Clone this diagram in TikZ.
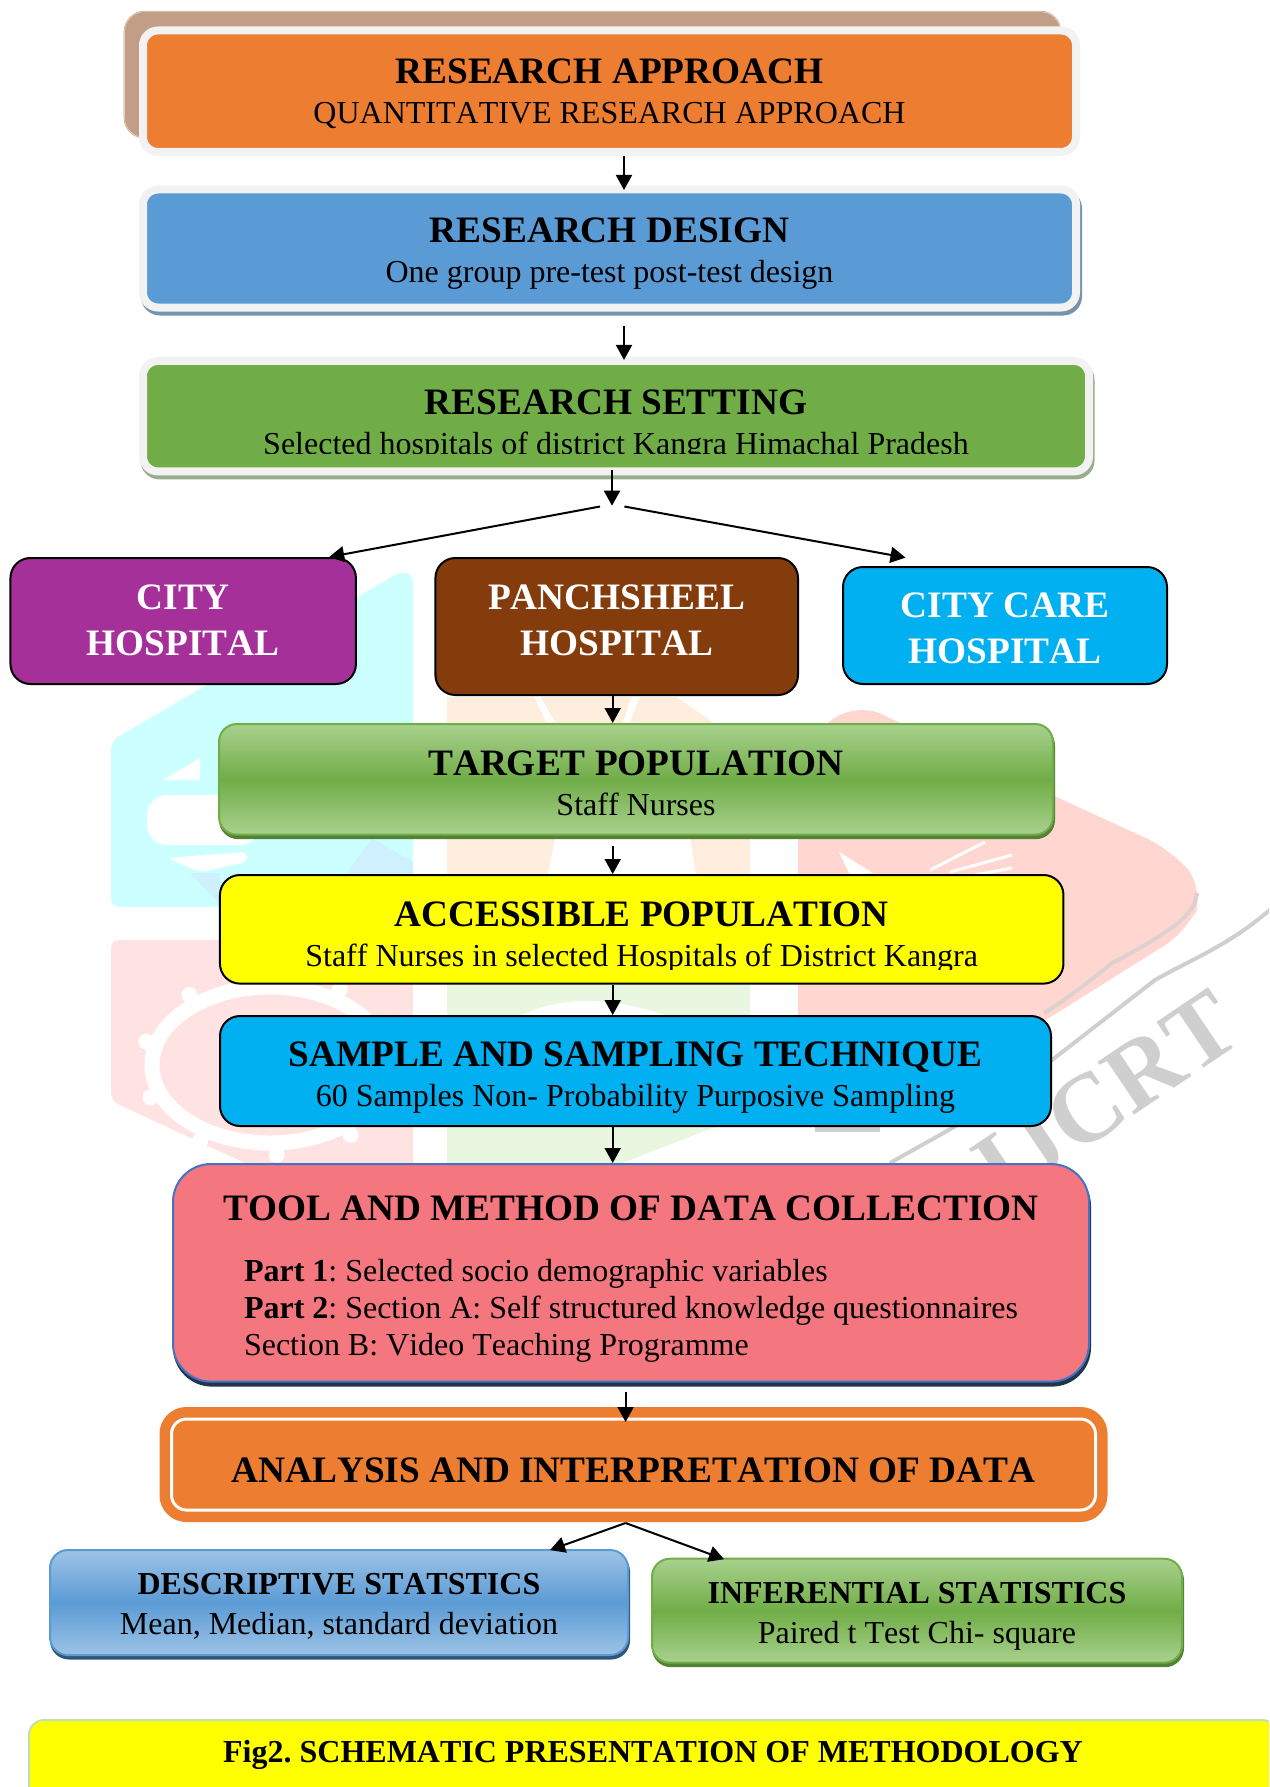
\documentclass[tikz,border=0pt]{standalone}
\usepackage{fontspec}
\setmainfont[Kerning=Off,Ligatures=NoCommon]{Liberation Serif}
\usetikzlibrary{arrows.meta,shadows}
\definecolor{fillorange}{HTML}{ED7D31}
\definecolor{fillblue}{HTML}{5B9BD5}
\definecolor{lightblue}{HTML}{9DC3E6}
\definecolor{fillgreen}{HTML}{70AD47}
\definecolor{lightgreen}{HTML}{A9D18E}
\definecolor{fillpurple}{HTML}{A6309A}
\definecolor{fillbrown}{HTML}{843C0C}
\definecolor{fillcyan}{HTML}{00B0F0}
\definecolor{fillyellow}{HTML}{FFFF00}
\definecolor{fillpink}{HTML}{F4777F}
\definecolor{edgegrey}{HTML}{F2F2F2}
\definecolor{edgeblue}{HTML}{4472C4}
\definecolor{backtan}{HTML}{C19E85}
\definecolor{markcyan}{HTML}{CCFFFF}
\definecolor{markblue}{HTML}{CFF1FF}
\definecolor{markpink}{HTML}{FFE3E3}
\definecolor{markpeach}{HTML}{FFEEDD}
\definecolor{markgreen}{HTML}{EAF7E0}
\definecolor{markred}{HTML}{FFD6D0}
\definecolor{markgrey}{HTML}{CFCFCF}
\newcommand{\headfont}{\fontsize{37.3}{40}\selectfont\bfseries}
\newcommand{\headtext}[2][50]{\rule{0pt}{#1pt}{\headfont #2}}
\newcommand{\subtext}[2]{\rule[-#1pt]{0pt}{#1pt}#2}
\frenchspacing
\tikzset{
  flowbox/.style={rounded corners=20pt, align=center, inner sep=0pt, font=\frenchspacing\fontsize{32}{40}\selectfont},
  paleedge/.style={flowbox, draw=edgegrey, line width=8pt, rounded corners=15pt},
  blackedge/.style={flowbox, draw=black, line width=2pt},
  hospital/.style={blackedge, text=white, font=\fontsize{32}{46}\selectfont},
  flow/.style={-{Triangle[length=15pt,width=16pt]}, line width=2pt},
  glossgreen/.style={flowbox, draw=fillgreen, line width=2pt, rounded corners=18pt, top color=lightgreen, bottom color=lightgreen, middle color=fillgreen,
    general shadow={shadow xshift=1pt, shadow yshift=-3.5pt, fill=fillgreen!75!black, draw=fillgreen!75!black, line width=2pt}},
  glossblue/.style={flowbox, draw=fillblue, line width=2pt, rounded corners=18pt, top color=lightblue, bottom color=lightblue, middle color=fillblue,
    general shadow={shadow xshift=1pt, shadow yshift=-3.5pt, fill=fillblue!55!black, draw=fillblue!55!black, line width=2pt}}
}
\begin{document}
\begin{tikzpicture}[x=1pt,y=-1pt]
  \clip (0,0) rectangle (1269,1787);

  % faint logo behind the boxes
  \fill[markcyan, rounded corners=8pt] (111,741) -- (402,571) -- (413,575) -- (413,885) -- (220,907) -- (111,907) -- cycle;
  \fill[markblue] (372,838) -- (413,862) -- (413,876) -- (345,876) -- cycle;
  \fill[markblue] (190,873) -- (220,873) -- (220,904) -- cycle;
  \fill[white, rounded corners=20pt] (147,795) rectangle (260,845);
  \fill[white] (163,780) -- (200,758) -- (200,780) -- cycle;
  \fill[white, rounded corners=5pt] (167,858) -- (247,852) -- (247,862) -- (200,872) -- cycle;

  \fill[markpink, rounded corners=8pt] (111,940) -- (413,940) -- (413,1170) -- (260,1170) -- (111,1101) -- cycle;
  \draw[white, line width=15pt] (270,1065) ellipse (118 and 78);
  \foreach \t in {0,36,...,324} {
    \fill[white] ({270+128*cos(\t+15)},{1065+90*sin(\t+15)}) circle (8);
  }

  \fill[markpeach] (447,697) -- (677,697) -- (750,748) -- (750,875) -- (447,875) -- cycle;
  \fill[white] (555,838) -- (690,838) -- (696,875) -- (548,875) -- cycle;
  \fill[white] (534,696) -- (540,696) -- (555,722) -- (546,722) -- cycle;
  \fill[white] (632,696) -- (640,696) -- (630,722) -- (623,722) -- cycle;

  \fill[markgreen] (447,983) -- (750,983) -- (750,1016) -- (715,1127) -- (620,1164) -- (447,1164) -- cycle;
  \fill[white] (520,1016) .. controls (560,996) and (610,996) .. (667,1016) -- cycle;

  \fill[markred, rounded corners=28pt] (798,1040) -- (798,745) -- (856,702) -- (1052,795) -- (1172,850) -- (1205,890) -- (1189,930) -- (1030,1030) -- cycle;
  \fill[white] (839,852) -- (873,873) -- (850,875) -- cycle;
  \draw[white, line width=3pt] (930,870) -- (985,842) (950,872) -- (1012,855) (975,875) -- (1012,868);

  % grey band and letters of the logo
  \draw[markgrey!70!markred, line width=4pt] (1197,893) .. controls (1195,910) and (1185,925) .. (1112,963) .. controls (1085,985) and (1065,1000) .. (1044,1013);
  \draw[markgrey, line width=5pt] (815,1129) -- (880,1129);
  \draw[markgrey, line width=4pt] (1272,908) .. controls (1230,945) and (1190,960) .. (1155,980) -- (1052,1060) -- (954,1127) -- (890,1163);
  \node[text=markgrey, font=\fontsize{98}{98}\selectfont\bfseries, rotate=34] (logotext) at (1106,1096) {IJCRT};

  % top three boxes
  \node[flowbox, fill=backtan, draw=backtan, double=backtan!50!white, double distance=0.8pt, minimum width=936pt, minimum height=126pt] (approachback) at (592.5,74.7) {};
  \node[paleedge, fill=fillorange, minimum width=933pt, minimum height=121.5pt] (approach) at (609.5,91.2)
    {\headtext{RESEARCH APPROACH}\\ \subtext{24.4}{QUANTITATIVE RESEARCH APPROACH}};
  \node[paleedge, fill=fillblue, minimum width=933pt, minimum height=118pt,
    general shadow={shadow xshift=2pt, shadow yshift=-4pt, fill=black!25!lightblue, draw=black!25!lightblue, line width=8pt}] (design) at (609.5,248.5)
    {\headtext{RESEARCH DESIGN}\\ \subtext{21}{One group pre-test post-test design}};
  \node[paleedge, fill=fillgreen, minimum width=946pt, minimum height=110.5pt,
    general shadow={shadow xshift=1.5pt, shadow yshift=-4pt, fill=black!35!lightgreen!70!white, draw=black!35!lightgreen!70!white, line width=8pt}] (setting) at (616,416.2)
    {\headtext{RESEARCH SETTING}\\ \subtext{13.5}{Selected hospitals of district Kangra Himachal Pradesh}};
  \fill[fillgreen] (250,453.5) rectangle (985,461);

  % hospitals
  \node[hospital, fill=fillpurple, minimum width=345.5pt, minimum height=126pt] (city) at (183.2,621)
    {\headtext{CITY}\\ \subtext{26.3}{\headfont HOSPITAL}};
  \node[hospital, fill=fillbrown, minimum width=362.6pt, minimum height=137pt] (panch) at (616.7,626.5)
    {\headtext{PANCHSHEEL}\\ \subtext{37.3}{\headfont HOSPITAL}};
  \node[hospital, fill=fillcyan, minimum width=324pt, minimum height=117pt] (care) at (1005,625.5)
    {\headtext[40]{CITY CARE}\\ \subtext{9.7}{\headfont HOSPITAL}};

  % population and sample
  \node[glossgreen, minimum width=834pt, minimum height=110.6pt] (target) at (636,779.3)
    {\headtext{TARGET POPULATION}\\ \subtext{18.6}{Staff Nurses}};
  \node[blackedge, fill=fillyellow, minimum width=843.5pt, minimum height=108.6pt] (accessible) at (641.7,929.3)
    {\headtext{ACCESSIBLE POPULATION}\\ \subtext{16.1}{Staff Nurses in selected Hospitals of District Kangra}};
  \fill[fillyellow] (300,969.5) rectangle (990,976);
  \node[blackedge, fill=fillcyan, minimum width=831pt, minimum height=110pt] (sample) at (635.5,1071)
    {\headtext{SAMPLE AND SAMPLING TECHNIQUE}\\ \subtext{20}{60 Samples Non- Probability Purposive Sampling}};

  % data collection
  \node[flowbox, rounded corners=38pt, fill=fillpink, draw=edgeblue, line width=2pt, font=\frenchspacing\fontsize{32}{37}\selectfont,
    general shadow={shadow xshift=1pt, shadow yshift=-4pt, fill=fillblue!35!black, draw=fillblue!35!black, line width=2pt},
    minimum width=916pt, minimum height=217.6pt] (tool) at (631,1272.8)
    {\headtext{TOOL AND METHOD OF DATA COLLECTION}\\[24pt]
     \makebox[774pt][l]{\textbf{Part 1}: Selected socio demographic variables}\\
     \makebox[774pt][l]{\textbf{Part 2}: Section A: Self structured knowledge questionnaires}\\
     \subtext{20.6}{\makebox[774pt][l]{Section B: Video Teaching Programme}}};

  \node[flowbox, rounded corners=15pt, fill=fillorange, draw=white, line width=3pt,
    preaction={draw=fillorange, line width=24pt},
    minimum width=924pt, minimum height=91pt] (analysis) at (633.5,1464.5)
    {\rule[-10pt]{0pt}{55pt}{\headfont ANALYSIS AND INTERPRETATION OF DATA}};

  % statistics
  \node[glossblue, minimum width=578pt, minimum height=105pt] (descriptive) at (339,1602.5)
    {\rule{0pt}{40pt}{\fontsize{32}{40}\selectfont\bfseries DESCRIPTIVE STATSTICS}\\ \subtext{16.6}{Mean, Median, standard deviation}};
  \node[glossgreen, minimum width=530pt, minimum height=104pt] (inferential) at (917,1610.7)
    {\rule{0pt}{40pt}{\fontsize{32}{40}\selectfont\bfseries INFERENTIAL STATISTICS}\\ \subtext{14.4}{Paired t Test Chi- square}};

  \node[flowbox, rounded corners=15pt, fill=fillyellow, draw=lightgreen!70!white, line width=2pt, minimum width=1248pt, minimum height=84pt] (caption) at (653,1762)
    {\rule[-30pt]{0pt}{60pt}{\fontsize{32}{40}\selectfont\bfseries Fig2. SCHEMATIC PRESENTATION OF METHODOLOGY}};

  % free ends of the forks
  \coordinate (forktip) at (612,505.7);
  \coordinate (forkleft) at (600,506.5);
  \coordinate (forkright) at (624.4,506.5);
  \coordinate (split) at (625.6,1523);

  % connectors
  \draw[flow] ([xshift=14.5pt]approach.south) -- ([xshift=14.5pt,yshift=-4.5pt]design.north);
  \draw[flow] ([xshift=14.5pt,yshift=-14.8pt]design.south) -- ([xshift=8pt,yshift=-3pt]setting.north);
  \draw[flow] ([xshift=-4pt,yshift=5.5pt]setting.south) -- (forktip);
  \draw[flow] (forkleft) -- ([xshift=146pt]city.north);
  \draw[flow] (forkright) -- ([xshift=-99.5pt,yshift=8.4pt]care.north);
  \draw[flow] ([xshift=-4pt]panch.south) -- ([xshift=-23.3pt]target.north);
  \draw[flow] ([xshift=-23.3pt,yshift=-10pt]target.south) -- ([xshift=-29pt]accessible.north);
  \draw[flow] ([xshift=-29pt]accessible.south) -- ([xshift=-22.8pt]sample.north);
  \draw[flow] ([xshift=-22.8pt]sample.south) -- ([xshift=-18.3pt]tool.north);
  \draw[flow] ([xshift=-5.4pt,yshift=-9pt]tool.south) -- ([xshift=-7.9pt,yshift=-4.5pt]analysis.north);
  \draw[flow] (split) -- ([xshift=211pt,yshift=-1pt]descriptive.north);
  \draw[flow] (split) -- ([xshift=-193pt,yshift=-1.5pt]inferential.north);
\end{tikzpicture}
\end{document}
